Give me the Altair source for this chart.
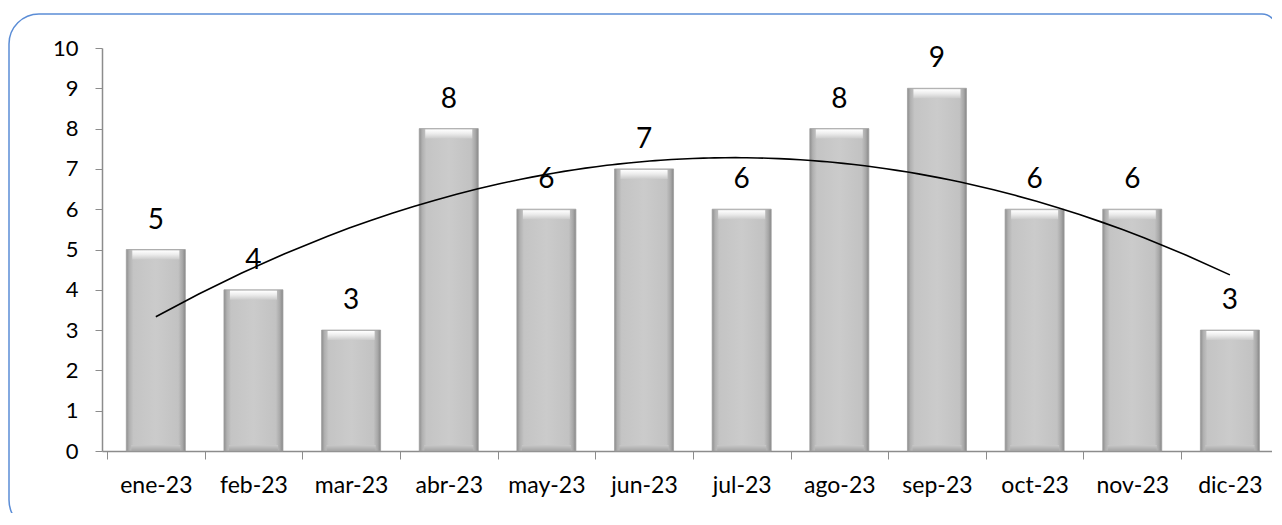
import altair as alt
import pandas as pd

months = ["ene-23", "feb-23", "mar-23", "abr-23", "may-23", "jun-23",
          "jul-23", "ago-23", "sep-23", "oct-23", "nov-23", "dic-23"]
values = [5, 4, 3, 8, 6, 7, 6, 8, 9, 6, 6, 3]
index = list(range(1, 13))

df = pd.DataFrame({"i": index, "mes": months, "v": values, "z": [0] * 12})

FONT = "Lato"
W, H = 1170, 403

month_arr = "[" + ",".join("'" + m + "'" for m in months) + "]"

x_scale = alt.Scale(domain=[0.5, 12.38], nice=False, zero=False)
y_scale = alt.Scale(domain=[0, 10], nice=False)

x_axis = alt.Axis(
    values=[k / 2 for k in range(1, 25)],
    labelExpr=f"datum.value % 1 === 0 ? {month_arr}[datum.value - 1] : ''",
    tickOpacity={"condition": {"test": "datum.value % 1 === 0", "value": 0}, "value": 1},
    tickSize=8, tickColor="#8c8c8c", domainColor="#8c8c8c", domainWidth=1.5,
    labelFont=FONT, labelFontSize=23, labelColor="#000000", labelPadding=26,
    labelBaseline="middle", labelOverlap=False, labelFlush=False,
    grid=False, title=None,
)
y_axis = alt.Axis(
    values=list(range(0, 11)), tickSize=7, tickColor="#8c8c8c",
    domainColor="#8c8c8c", domainWidth=1.5, labelFont=FONT, labelFontSize=22,
    labelColor="#000000", labelPadding=17, grid=False, title=None,
)

base = alt.Chart(df)

bar_fill = alt.Gradient(
    gradient="linear", x1=0, y1=0, x2=1, y2=0,
    stops=[
        alt.GradientStop(color="#8e8e8e", offset=0),
        alt.GradientStop(color="#b0b0b0", offset=0.05),
        alt.GradientStop(color="#c4c4c4", offset=0.12),
        alt.GradientStop(color="#cbcbcb", offset=0.5),
        alt.GradientStop(color="#c2c2c2", offset=0.88),
        alt.GradientStop(color="#a8a8a8", offset=0.95),
        alt.GradientStop(color="#878787", offset=1),
    ],
)
bars = base.mark_bar(width=59, fill=bar_fill, stroke="#a0a0a0", strokeWidth=0.8).encode(
    x=alt.X("i:Q", scale=x_scale, axis=x_axis),
    y=alt.Y("v:Q", scale=y_scale, axis=y_axis),
)

top_fill = alt.Gradient(
    gradient="linear", x1=0, y1=0, x2=0, y2=1,
    stops=[
        alt.GradientStop(color="#ffffff", offset=0),
        alt.GradientStop(color="#ececec", offset=0.45),
        alt.GradientStop(color="#cbcbcb", offset=1),
    ],
)
tops = base.mark_bar(width=47, fill=top_fill, y2Offset=10, yOffset=1).encode(
    x=alt.X("i:Q", scale=x_scale),
    y=alt.Y("v:Q", scale=y_scale),
    y2=alt.Y2("v:Q"),
)

bottom_fill = alt.Gradient(
    gradient="linear", x1=0, y1=0, x2=0, y2=1,
    stops=[
        alt.GradientStop(color="#c8c8c8", offset=0),
        alt.GradientStop(color="#a4a4a4", offset=1),
    ],
)
bottoms = base.mark_bar(width=49, fill=bottom_fill, yOffset=-6).encode(
    x=alt.X("i:Q", scale=x_scale),
    y=alt.Y("z:Q", scale=y_scale),
    y2=alt.Y2("z:Q"),
)

labels = base.mark_text(font=FONT, fontSize=28, color="#000000", dy=-29,
                        baseline="middle").encode(
    x=alt.X("i:Q", scale=x_scale),
    y=alt.Y("v:Q", scale=y_scale),
    text=alt.Text("v:Q"),
)

trend = base.transform_regression("i", "v", method="poly", order=2).mark_line(
    color="#000000", strokeWidth=1.6
).encode(
    x=alt.X("i:Q", scale=x_scale),
    y=alt.Y("v:Q", scale=y_scale),
)

one = alt.Data(values=[{}])
frame = alt.Chart(one).mark_rect(
    cornerRadiusTopLeft=30, cornerRadiusBottomLeft=30, cornerRadiusTopRight=14,
    fill="transparent", stroke="#5b8dd6", strokeWidth=1.5
).encode(
    x=alt.value(-93), x2=alt.value(W + 4),
    y=alt.value(-34), y2=alt.value(H + 79),
)

chart = alt.layer(frame, bars, tops, bottoms, trend, labels).properties(
    width=W, height=H,
    autosize=alt.AutoSizeParams(type="none"),
    padding={"left": 94, "top": 40, "right": 0, "bottom": 62},
    background="#ffffff",
).configure_view(stroke=None)

chart.save("out.html", embed_options={"renderer": "svg", "actions": False})
